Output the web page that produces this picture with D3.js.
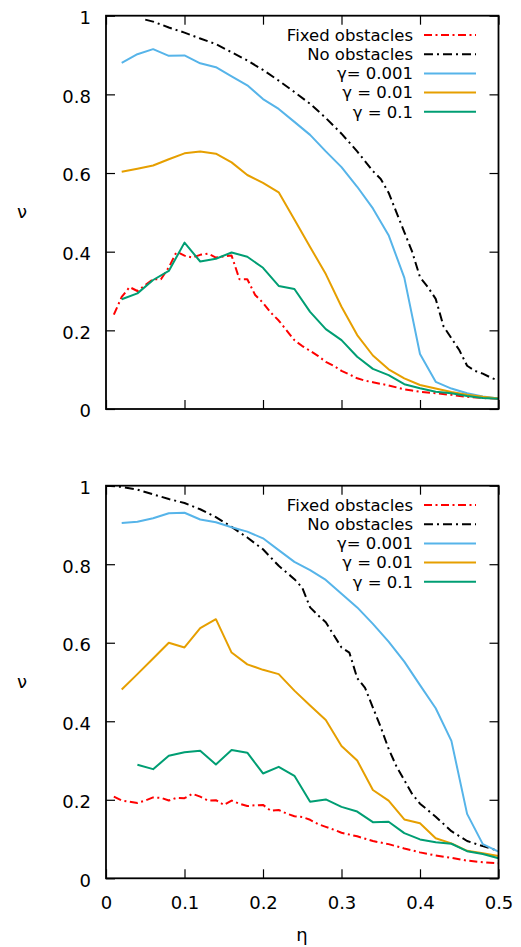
<!DOCTYPE html>
<html>
<head>
<meta charset="utf-8">
<script src="https://cdn.jsdelivr.net/npm/d3@7"></script>
<style>
  html, body { margin: 0; padding: 0; background: #fff; }
  svg { display: block; }
  text { font-family: "DejaVu Sans", sans-serif; fill: #000; }
</style>
</head>
<body>
<svg id="chart" width="521" height="947"></svg>
<script>
// ---------------- DATA ----------------
const xTicks = [0, 0.1, 0.2, 0.3, 0.4, 0.5];
const yTicks = [0, 0.2, 0.4, 0.6, 0.8, 1];
const legendLabels = ["Fixed obstacles", "No obstacles", "γ= 0.001", "γ = 0.01", "γ = 0.1"];
const seriesColors = ["#ff0000", "#000000", "#56b4e9", "#e69f00", "#009e73"];

const eta02 = [0.02,0.04,0.06,0.08,0.10,0.12,0.14,0.16,0.18,0.20,0.22,0.24,0.26,0.28,0.30,0.32,0.34,0.36,0.38,0.40,0.42,0.44,0.46,0.48,0.50];
const eta04 = [0.04,0.06,0.08,0.10,0.12,0.14,0.16,0.18,0.20,0.22,0.24,0.26,0.28,0.30,0.32,0.34,0.36,0.38,0.40,0.42,0.44,0.46,0.48,0.50];

// top panel
const topFixedEta = [0.01,0.02,0.03,0.04,0.05,0.06,0.07,0.08,0.09,0.10,0.11,0.12,0.13,0.14,0.15,0.16,0.17,0.18,0.19,0.20,0.21,0.22,0.23,0.24,0.25,0.26,0.27,0.28,0.29,0.30,0.31,0.32,0.33,0.34,0.35,0.36,0.37,0.38,0.39,0.40,0.42,0.44,0.46,0.48,0.50];
const topFixed = [0.24,0.285,0.31,0.30,0.315,0.33,0.33,0.36,0.40,0.39,0.385,0.392,0.395,0.385,0.388,0.39,0.33,0.33,0.29,0.27,0.245,0.225,0.20,0.175,0.16,0.148,0.135,0.12,0.11,0.097,0.088,0.078,0.072,0.068,0.064,0.06,0.055,0.05,0.047,0.044,0.040,0.036,0.031,0.028,0.026];
const topNoObsEta = [0.05,0.06,0.08,0.10,0.12,0.14,0.16,0.18,0.20,0.22,0.24,0.26,0.28,0.30,0.32,0.34,0.35,0.36,0.37,0.38,0.39,0.40,0.41,0.42,0.43,0.44,0.45,0.46,0.47,0.48,0.49,0.50];
const topNoObs = [0.99,0.985,0.97,0.957,0.942,0.928,0.907,0.886,0.862,0.835,0.806,0.776,0.74,0.70,0.655,0.605,0.585,0.55,0.50,0.45,0.40,0.335,0.31,0.28,0.21,0.18,0.15,0.11,0.097,0.09,0.08,0.072];
const topG001 = [0.880,0.902,0.915,0.898,0.899,0.879,0.869,0.846,0.823,0.788,0.763,0.730,0.697,0.655,0.615,0.565,0.510,0.442,0.334,0.140,0.069,0.052,0.040,0.032,0.027];
const topG01 = [0.603,0.611,0.619,0.635,0.650,0.655,0.649,0.627,0.595,0.575,0.551,0.482,0.412,0.343,0.260,0.188,0.136,0.101,0.078,0.061,0.052,0.043,0.036,0.031,0.027];
const topG1 = [0.279,0.294,0.328,0.351,0.423,0.375,0.382,0.398,0.387,0.359,0.313,0.305,0.247,0.203,0.175,0.133,0.102,0.086,0.063,0.053,0.044,0.040,0.033,0.028,0.026];

// bottom panel
const botFixedEta = [0.01,0.02,0.03,0.04,0.05,0.06,0.07,0.08,0.09,0.10,0.11,0.12,0.13,0.14,0.15,0.16,0.17,0.18,0.19,0.20,0.21,0.22,0.23,0.24,0.25,0.26,0.27,0.28,0.29,0.30,0.32,0.34,0.36,0.38,0.40,0.42,0.44,0.46,0.48,0.50];
const botFixed = [0.208,0.198,0.195,0.192,0.198,0.206,0.205,0.198,0.205,0.204,0.215,0.208,0.198,0.199,0.187,0.198,0.19,0.184,0.186,0.187,0.172,0.174,0.165,0.158,0.156,0.149,0.138,0.131,0.124,0.116,0.107,0.095,0.087,0.076,0.066,0.058,0.052,0.045,0.041,0.038];
const botNoObsEta = [0.00,0.02,0.04,0.06,0.08,0.10,0.12,0.14,0.16,0.18,0.20,0.22,0.24,0.25,0.26,0.27,0.28,0.29,0.30,0.31,0.32,0.33,0.34,0.35,0.36,0.37,0.38,0.39,0.40,0.42,0.44,0.46,0.48,0.50];
const botNoObs = [1.0,0.997,0.99,0.978,0.966,0.956,0.94,0.92,0.895,0.868,0.838,0.796,0.762,0.74,0.69,0.67,0.652,0.62,0.588,0.575,0.51,0.485,0.435,0.385,0.33,0.285,0.25,0.215,0.19,0.157,0.12,0.095,0.082,0.07];
const botG001 = [0.905,0.908,0.917,0.930,0.931,0.914,0.907,0.894,0.883,0.866,0.836,0.806,0.785,0.760,0.725,0.690,0.648,0.603,0.552,0.492,0.433,0.350,0.164,0.087,0.068];
const botG01 = [0.481,0.52,0.56,0.600,0.588,0.637,0.660,0.575,0.545,0.531,0.520,0.478,0.44,0.403,0.337,0.300,0.225,0.198,0.150,0.140,0.102,0.089,0.070,0.064,0.057];
const botG1 = [0.289,0.278,0.312,0.321,0.325,0.290,0.327,0.320,0.267,0.284,0.261,0.195,0.201,0.182,0.170,0.143,0.144,0.115,0.099,0.092,0.088,0.069,0.062,0.051];

// ---------------- DRAW ----------------
const svg = d3.select("#chart");
const L = 106, R = 498.5;
const panels = [
  { top: 15.7, bottom: 409, showX: false,
    series: [[topFixedEta, topFixed], [topNoObsEta, topNoObs], [eta02, topG001], [eta02, topG01], [eta02, topG1]] },
  { top: 485.7, bottom: 878.3, showX: true,
    series: [[botFixedEta, botFixed], [botNoObsEta, botNoObs], [eta02, botG001], [eta02, botG01], [eta04, botG1]] }
];
const dashes = ["8,3.5,2,3.5", "9,4,2,4", null, null, null];
const fmt = d => String(+d.toFixed(1));

panels.forEach((p, pi) => {
  const x = d3.scaleLinear().domain([0, 0.5]).range([L, R]);
  const y = d3.scaleLinear().domain([0, 1]).range([p.bottom, p.top]);
  const g = svg.append("g");

  const clipId = "clip" + pi;
  svg.append("clipPath").attr("id", clipId).append("rect")
    .attr("x", L).attr("y", p.top).attr("width", R - L).attr("height", p.bottom - p.top);

  const ax = (sel) => sel.call(s => s.select(".domain").remove())
    .call(s => s.selectAll(".tick line").attr("stroke", "#000").attr("stroke-width", 1.2));

  g.append("g").attr("transform", `translate(${L},0)`)
    .call(d3.axisLeft(y).tickValues(yTicks).tickSize(-9).tickPadding(15).tickFormat(fmt))
    .call(ax)
    .call(s => s.selectAll("text").attr("font-size", 18).attr("dy", "0.44em")
      .attr("font-family", "DejaVu Sans"));
  g.append("g").attr("transform", `translate(${R},0)`)
    .call(d3.axisRight(y).tickValues(yTicks).tickSize(-9).tickFormat(""))
    .call(ax);
  g.append("g").attr("transform", `translate(0,${p.top})`)
    .call(d3.axisTop(x).tickValues(xTicks).tickSize(-9).tickFormat(""))
    .call(ax);
  g.append("g").attr("transform", `translate(0,${p.bottom})`)
    .call(d3.axisBottom(x).tickValues(xTicks).tickSize(-9).tickPadding(18)
      .tickFormat(p.showX ? fmt : ""))
    .call(ax)
    .call(s => s.selectAll("text").attr("font-size", 18).attr("font-family", "DejaVu Sans"));

  const line = d3.line().x(d => x(d[0])).y(d => y(d[1]));
  const lg = svg.append("g").attr("clip-path", `url(#${clipId})`);
  p.series.forEach((s, i) => {
    const pts = s[0].map((e, k) => [e, s[1][k]]);
    const path = lg.append("path").datum(pts)
      .attr("d", line)
      .attr("fill", "none")
      .attr("stroke", seriesColors[i])
      .attr("stroke-width", 2)
      .attr("stroke-linejoin", "round");
    if (dashes[i]) path.attr("stroke-dasharray", dashes[i]);
  });

  svg.append("rect").attr("x", L).attr("y", p.top)
    .attr("width", R - L).attr("height", p.bottom - p.top)
    .attr("fill", "none").attr("stroke", "#000").attr("stroke-width", 1.8);

  const legY0 = p.top + 19.3;
  legendLabels.forEach((lab, i) => {
    const cy = legY0 + i * 19.2;
    svg.append("text").attr("x", 413).attr("y", cy + 5.8)
      .attr("text-anchor", "end").attr("font-size", 16.5).text(lab);
    const ls = svg.append("line").attr("x1", 424).attr("x2", 476)
      .attr("y1", cy).attr("y2", cy)
      .attr("stroke", seriesColors[i]).attr("stroke-width", 2);
    if (dashes[i]) ls.attr("stroke-dasharray", dashes[i]);
  });

  const my = (p.top + p.bottom) / 2;
  svg.append("text").attr("x", 22).attr("y", my + 6)
    .attr("text-anchor", "middle").attr("font-size", 18).text("ν");
});

svg.append("text").attr("x", 302).attr("y", 941)
  .attr("text-anchor", "middle").attr("font-size", 18).text("η");
</script>
</body>
</html>
